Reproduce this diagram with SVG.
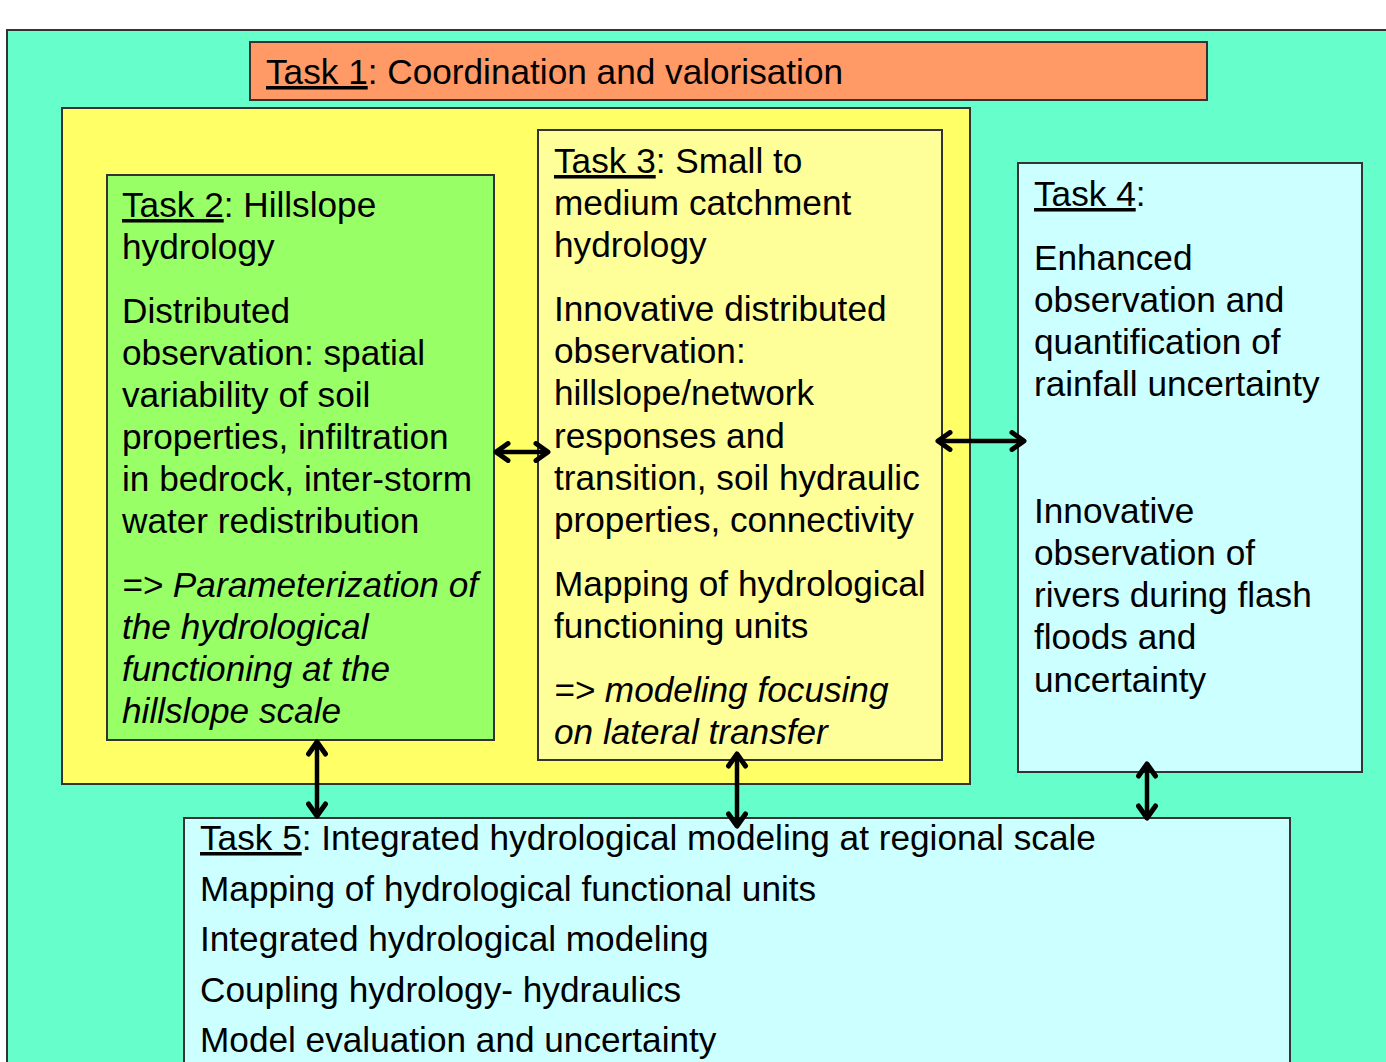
<svg xmlns="http://www.w3.org/2000/svg" width="1386" height="1062" viewBox="0 0 1386 1062">
<defs>
<style>
.box{stroke:#333;stroke-width:2}
text{font-family:"Liberation Sans",Arial,sans-serif;font-size:35.2px;fill:#000}
.it{font-style:italic}
.u{text-decoration:underline}
.conn{stroke:#000;stroke-width:4.5;fill:none;marker-start:url(#ah);marker-end:url(#ah)}
</style>
<marker id="ah" viewBox="0 0 18 22" refX="15" refY="11" markerWidth="18" markerHeight="22" markerUnits="userSpaceOnUse" orient="auto-start-reverse">
<path d="M3,2.5 L15,11 L3,19.5" fill="none" stroke="#000" stroke-width="5" stroke-linecap="round" stroke-linejoin="round"/>
</marker>
</defs>
<rect width="1386" height="1062" fill="#fff"/>
<g id="background">
<rect class="box" x="7" y="30" width="1390" height="1050" fill="#66FFCC"/>
</g>
<g id="task1">
<rect class="box" x="250" y="42" width="957" height="58" fill="#FF9966"/>
<text x="266" y="84"><tspan class="u">Task 1</tspan>: Coordination and valorisation</text>
</g>
<g id="group23">
<rect class="box" x="62" y="108" width="908" height="676" fill="#FFFF66"/>
</g>
<g id="task2">
<rect class="box" x="107" y="175" width="387" height="565" fill="#99FF66"/>
<text x="122" y="217"><tspan class="u">Task 2</tspan>: Hillslope</text>
<text x="122" y="259">hydrology</text>
<text x="122" y="323">Distributed</text>
<text x="122" y="365">observation: spatial</text>
<text x="122" y="407">variability of soil</text>
<text x="122" y="449">properties, infiltration</text>
<text x="122" y="491">in bedrock, inter-storm</text>
<text x="122" y="533">water redistribution</text>
<text class="it" x="122" y="597">=&gt; Parameterization of</text>
<text class="it" x="122" y="639">the hydrological</text>
<text class="it" x="122" y="681">functioning at the</text>
<text class="it" x="122" y="723">hillslope scale</text>
</g>
<g id="task3">
<rect class="box" x="538" y="130" width="404" height="630" fill="#FFFF99"/>
<text x="554" y="173"><tspan class="u">Task 3</tspan>: Small to</text>
<text x="554" y="215">medium catchment</text>
<text x="554" y="257">hydrology</text>
<text x="554" y="321">Innovative distributed</text>
<text x="554" y="363">observation:</text>
<text x="554" y="405">hillslope/network</text>
<text x="554" y="448">responses and</text>
<text x="554" y="490">transition, soil hydraulic</text>
<text x="554" y="532">properties, connectivity</text>
<text x="554" y="596">Mapping of hydrological</text>
<text x="554" y="638">functioning units</text>
<text class="it" x="554" y="702">=&gt; modeling focusing</text>
<text class="it" x="554" y="744">on lateral transfer</text>
</g>
<g id="task4">
<rect class="box" x="1018" y="163" width="344" height="609" fill="#CCFFFF"/>
<text x="1034" y="206"><tspan class="u">Task 4</tspan>:</text>
<text x="1034" y="270">Enhanced</text>
<text x="1034" y="312">observation and</text>
<text x="1034" y="354">quantification of</text>
<text x="1034" y="396">rainfall uncertainty</text>
<text x="1034" y="523">Innovative</text>
<text x="1034" y="565">observation of</text>
<text x="1034" y="607">rivers during flash</text>
<text x="1034" y="649">floods and</text>
<text x="1034" y="692">uncertainty</text>
</g>
<g id="task5">
<rect class="box" x="184" y="818" width="1106" height="260" fill="#CCFFFF"/>
<text x="200" y="850"><tspan class="u">Task 5</tspan>: Integrated hydrological modeling at regional scale</text>
<text x="200" y="901">Mapping of hydrological functional units</text>
<text x="200" y="951">Integrated hydrological modeling</text>
<text x="200" y="1002">Coupling hydrology- hydraulics</text>
<text x="200" y="1052">Model evaluation and uncertainty</text>
</g>
<g id="connectors">
<line class="conn" x1="496" y1="452" x2="548" y2="452"/>
<line class="conn" x1="938" y1="441" x2="1024" y2="441"/>
<line class="conn" x1="317" y1="742" x2="317" y2="816"/>
<line class="conn" x1="737" y1="754" x2="737" y2="826"/>
<line class="conn" x1="1147" y1="764" x2="1147" y2="818"/>
</g>
</svg>
